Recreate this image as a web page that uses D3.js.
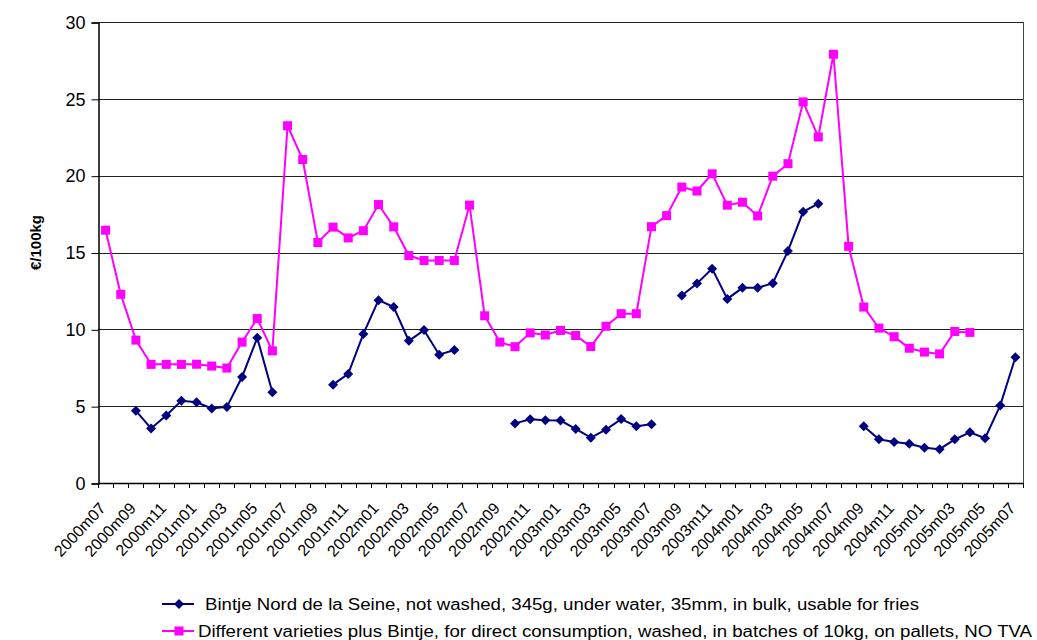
<!DOCTYPE html>
<html>
<head>
<meta charset="utf-8">
<script src="https://cdn.jsdelivr.net/npm/d3@7"></script>
<style>
  html, body { margin: 0; padding: 0; background: #fff; }
  svg { display: block; font-family: "Liberation Sans", Arial, sans-serif; }
</style>
</head>
<body>
<svg id="chart" width="1037" height="640"></svg>
<script>
const months = [
  "2000m07","2000m08","2000m09","2000m10","2000m11","2000m12",
  "2001m01","2001m02","2001m03","2001m04","2001m05","2001m06","2001m07","2001m08","2001m09","2001m10","2001m11","2001m12",
  "2002m01","2002m02","2002m03","2002m04","2002m05","2002m06","2002m07","2002m08","2002m09","2002m10","2002m11","2002m12",
  "2003m01","2003m02","2003m03","2003m04","2003m05","2003m06","2003m07","2003m08","2003m09","2003m10","2003m11","2003m12",
  "2004m01","2004m02","2004m03","2004m04","2004m05","2004m06","2004m07","2004m08","2004m09","2004m10","2004m11","2004m12",
  "2005m01","2005m02","2005m03","2005m04","2005m05","2005m06","2005m07"
];
const tickLabels = [
  "2000m07","2000m09","2000m11","2001m01","2001m03","2001m05","2001m07","2001m09","2001m11",
  "2002m01","2002m03","2002m05","2002m07","2002m09","2002m11","2003m01","2003m03","2003m05",
  "2003m07","2003m09","2003m11","2004m01","2004m03","2004m05","2004m07","2004m09","2004m11",
  "2005m01","2005m03","2005m05","2005m07"
];
const yTicks = [0, 5, 10, 15, 20, 25, 30];

const bintjeName = "Bintje Nord de la Seine, not washed, 345g, under water, 35mm, in bulk, usable for fries";
const bintje = [
  null, null, 4.7, 3.55, 4.4, 5.35, 5.25, 4.85, 4.95, 6.9, 9.45, 5.9,
  null, null, null, 6.4, 7.1, 9.7, 11.9, 11.45, 9.25, 9.95, 8.35, 8.65,
  null, null, null, 3.88, 4.15, 4.08, 4.06, 3.52, 2.95, 3.47, 4.16, 3.7,
  3.83, null, 12.2, 12.98, 13.95, 11.98, 12.7, 12.7, 13.0, 15.1, 17.65, 18.18,
  null, null, 3.7, 2.85, 2.67, 2.56, 2.3, 2.2, 2.84, 3.3, 2.92, 5.05, 8.18
];

const variousName = "Different varieties plus Bintje, for direct consumption, washed, in batches of 10kg, on pallets, NO TVA";
const various = [
  16.45, 12.28, 9.3, 7.72, 7.72, 7.72, 7.73, 7.61, 7.48, 9.17, 10.7, 8.6,
  23.25, 21.05, 15.65, 16.65, 15.95, 16.42, 18.12, 16.67, 14.8, 14.48, 14.48, 14.48,
  18.08, 10.88, 9.17, 8.87, 9.77, 9.63, 9.93, 9.6, 8.88, 10.2, 11.02, 11.02,
  16.68, 17.4, 19.26, 19.0, 20.12, 18.08, 18.27, 17.38, 19.97, 20.78, 24.8, 22.52,
  27.9, 15.4, 11.45, 10.08, 9.52, 8.77, 8.52, 8.4, 9.86, 9.8, null, null, null
];

const navy = "#000080";
const pink = "#ff00ff";

const svg = d3.select("#chart");
const pLeft = 98, pRight = 1023, pTop = 22, pBottom = 483;

const x = d3.scaleBand().domain(months).range([pLeft, pRight]).padding(0);
const cx = m => x(m) + x.bandwidth() / 2;
const y = d3.scaleLinear().domain([0, 30]).range([pBottom, pTop]);

// gridlines
svg.append("g").selectAll("line").data(yTicks.filter(v => v > 0)).join("line")
  .attr("x1", pLeft).attr("x2", pRight)
  .attr("y1", d => Math.round(y(d)) + 0.5).attr("y2", d => Math.round(y(d)) + 0.5)
  .attr("stroke", "#222").attr("stroke-width", 1);
// right border
svg.append("line").attr("x1", pRight + 0.5).attr("x2", pRight + 0.5)
  .attr("y1", pTop).attr("y2", pBottom).attr("stroke", "#444").attr("stroke-width", 1);

// y axis
const yAxis = d3.axisLeft(y).tickValues(yTicks).tickSize(7).tickPadding(6).tickFormat(d3.format("d"));
const gy = svg.append("g").attr("transform", `translate(${pLeft + 0.5},0.5)`).call(yAxis);
gy.select(".domain").attr("stroke", "#000").attr("stroke-width", 1.5);
gy.selectAll(".tick line").attr("stroke", "#000");
gy.selectAll(".tick text").attr("font-size", 18).attr("fill", "#000")
  .attr("font-family", "Liberation Sans, Arial, sans-serif");

// x axis: ticks at category boundaries
const boundaries = months.map(m => x(m)).concat([pRight]);
const gx = svg.append("g");
gx.append("line").attr("x1", pLeft).attr("x2", pRight)
  .attr("y1", pBottom + 0.5).attr("y2", pBottom + 0.5).attr("stroke", "#000").attr("stroke-width", 1.5);
gx.selectAll("line.tk").data(boundaries).join("line").attr("class", "tk")
  .attr("x1", d => Math.round(d) + 0.5).attr("x2", d => Math.round(d) + 0.5)
  .attr("y1", pBottom).attr("y2", pBottom + 5).attr("stroke", "#000");
gx.selectAll("text").data(tickLabels).join("text")
  .attr("transform", d => `translate(${cx(d) + 1},${pBottom + 26}) rotate(-47)`)
  .attr("text-anchor", "end")
  .attr("font-size", 16).attr("fill", "#000")
  .text(d => d);

// y axis title
svg.append("text")
  .attr("transform", `translate(41,${(pTop + pBottom) / 2 - 10}) rotate(-90)`)
  .attr("text-anchor", "middle").attr("font-size", 15).attr("font-weight", "bold")
  .text("€/100kg");

// lines
const line = d3.line().defined(d => d.v != null).x(d => cx(d.m)).y(d => y(d.v));
const s1 = months.map((m, i) => ({ m, v: bintje[i] }));
const s2 = months.map((m, i) => ({ m, v: various[i] }));

svg.append("path").datum(s2).attr("d", line).attr("fill", "none").attr("stroke", pink).attr("stroke-width", 2);
svg.append("path").datum(s1).attr("d", line).attr("fill", "none").attr("stroke", navy).attr("stroke-width", 2);

const sq = 9;
svg.append("g").selectAll("rect").data(s2.filter(d => d.v != null)).join("rect")
  .attr("x", d => cx(d.m) - sq / 2).attr("y", d => y(d.v) - sq / 2)
  .attr("width", sq).attr("height", sq).attr("fill", pink);
const dm = 5;
const diamond = (px, py) => `M${px},${py - dm}L${px + dm},${py}L${px},${py + dm}L${px - dm},${py}Z`;
svg.append("g").selectAll("path").data(s1.filter(d => d.v != null)).join("path")
  .attr("d", d => diamond(cx(d.m), y(d.v))).attr("fill", navy);

// legend
const leg = [
  { name: bintjeName, color: navy, shape: "diamond", ly: 604, tx: 205, tw: 714 },
  { name: variousName, color: pink, shape: "square", ly: 631, tx: 198, tw: 834 }
];
const lg = svg.append("g");
leg.forEach(e => {
  lg.append("line").attr("x1", 162).attr("x2", 194).attr("y1", e.ly).attr("y2", e.ly)
    .attr("stroke", e.color).attr("stroke-width", 2);
  if (e.shape === "diamond") {
    lg.append("path").attr("d", diamond(179, e.ly)).attr("fill", e.color);
  } else {
    lg.append("rect").attr("x", 179 - sq / 2).attr("y", e.ly - sq / 2).attr("width", sq).attr("height", sq).attr("fill", e.color);
  }
  lg.append("text").attr("x", e.tx).attr("y", e.ly).attr("dy", "0.35em")
    .attr("font-size", 16).attr("fill", "#000")
    .attr("textLength", e.tw).attr("lengthAdjust", "spacingAndGlyphs")
    .text(e.name);
});
</script>
</body>
</html>
